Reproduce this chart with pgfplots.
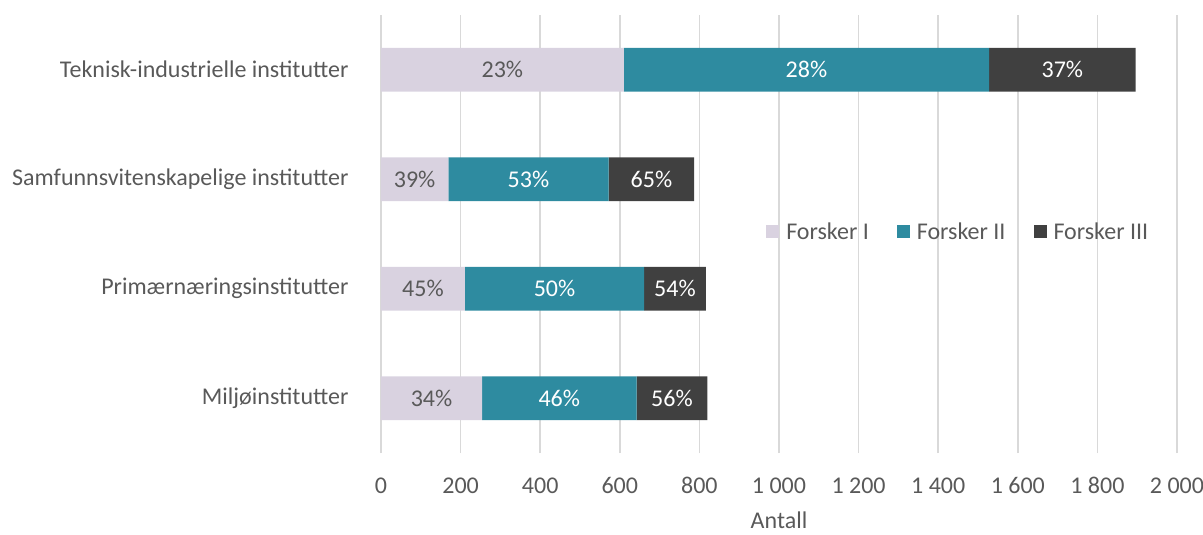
\documentclass[border=0pt]{standalone}
\usepackage{pgfplots}
\pgfplotsset{compat=1.18}
\usepackage{fontspec}
\setmainfont{Carlito}
\definecolor{txt}{HTML}{595959}
\definecolor{fI}{HTML}{D9D2E0}
\definecolor{fII}{HTML}{2E8BA0}
\definecolor{fIII}{HTML}{404040}
\definecolor{gridc}{HTML}{D9D9D9}
\begin{document}
\begin{tikzpicture}[font=\fontsize{24bp}{28bp}\selectfont]
\begin{axis}[
  scale only axis, width=796bp, height=438bp,
  xbar stacked, bar width=0.4,
  xmin=0, xmax=2000, ymin=-0.5, ymax=3.5,
  xtick={0,200,...,2000},
  ytick={0,1,2,3},
  yticklabels={Miljøinstitutter, Primærnæringsinstitutter, Samfunnsvitenskapelige institutter, Teknisk-industrielle institutter},
  axis line style={draw=none},
  major tick length=0pt,
  xmajorgrids, grid style={gridc, line width=1.5bp},
  xticklabel style={text=txt, yshift=-21bp, /pgf/number format/1000 sep={\ }, /pgf/number format/assume math mode=true},
  yticklabel style={text=txt, xshift=-29bp},
  xlabel={Antall}, xlabel style={text=txt, yshift=-11bp},
  point meta=explicit symbolic,
  nodes near coords,
  every node near coord/.append style={anchor=center},
  legend style={at={(rel axis cs:0.48,0.505)}, anchor=west, draw=none, fill=none, text=txt,
    /tikz/every even column/.append style={column sep=26bp},
    /tikz/every odd column/.append style={column sep=5bp}},
  legend columns=3,
  legend image code/.code={\fill[#1] (0bp,-6.5bp) rectangle (13bp,6.5bp);},
]
\addplot[fill=fI, draw=none, every node near coord/.append style={text=txt}]
  coordinates {(254,0) [34\%] (211,1) [45\%] (169,2) [39\%] (610,3) [23\%]};
\addplot[fill=fII, draw=none, every node near coord/.append style={text=white}]
  coordinates {(388,0) [46\%] (450,1) [50\%] (403,2) [53\%] (918,3) [28\%]};
\addplot[fill=fIII, draw=none, every node near coord/.append style={text=white}]
  coordinates {(178,0) [56\%] (155,1) [54\%] (215,2) [65\%] (368,3) [37\%]};
\legend{Forsker I, Forsker II, Forsker III}
\coordinate (o) at (rel axis cs:0,0);
\coordinate (t) at (rel axis cs:1,1);
\end{axis}
\pgfresetboundingbox
\path ([shift={(-381bp,-82bp)}]o) rectangle ([shift={(26bp,15bp)}]t);
\end{tikzpicture}
\end{document}
